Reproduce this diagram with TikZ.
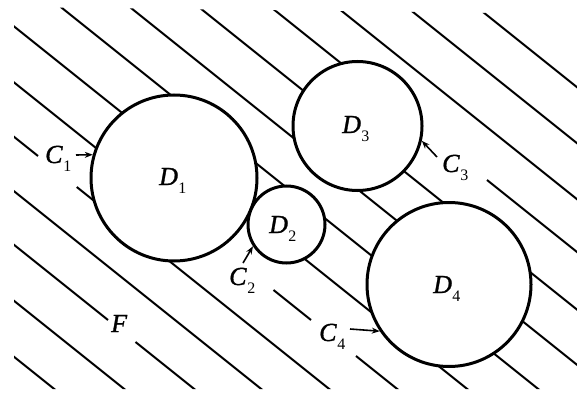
\documentclass[tikz,border=0pt]{standalone}
\usepackage{fontspec}
\setmainfont{Liberation Serif}[ItalicFeatures={FakeBold=1.2}]
\usetikzlibrary{arrows.meta}
\newcommand{\lbl}[2]{\textit{#1}\kern0.5pt\raisebox{-8pt}{\fontsize{16}{16}\selectfont #2}}
\begin{document}
\begin{tikzpicture}[x=1pt,y=-1pt,
  hatch/.style={line width=2pt},
  disk/.style={circle,draw,fill=white,line width=3pt,inner sep=0pt},
  lab/.style={anchor=base west,inner sep=0pt,font=\fontsize{26}{26}\selectfont},
  arr/.style={line width=1.6pt,-{Stealth[length=8pt,width=6pt]}}]
\useasboundingbox (0,0) rectangle (577,393);
\begin{scope}
\clip (14,7) -- (577,14) -- (577,389) -- (14,389) -- cycle;
\foreach \a in {468,398,328,190,121,52,-19,-225,-362,-432}
  \draw[hatch] ({\a-62.5},-50) -- ({\a+625},500);
\foreach \a/\ya/\yb in {262/-50/127, 262/180/500,
                        -89/-50/246, -89/290/320, -89/356/500,
                        -157/-50/156, -157/187/500,
                        -292/-50/320, -292/342/500}
  \draw[hatch] ({\a+1.25*(\ya)},\ya) -- ({\a+1.25*(\yb)},\yb);
\end{scope}
\node[disk,minimum size=166pt] (d1) at (174,178) {};
\node[disk,minimum size=77pt] (d2) at (286.5,224.5) {};
\node[disk,minimum size=129pt] (d3) at (357.5,126) {};
\node[disk,minimum size=164pt] (d4) at (449,284.5) {};
\node[lab] (l1) at (159,185) {\lbl{D}{1}};
\node[lab] (l2) at (269,233) {\lbl{D}{2}};
\node[lab] (l3) at (342,133) {\lbl{D}{3}};
\node[lab] (l4) at (433,293) {\lbl{D}{4}};
\node[lab] (c1) at (45,163) {\lbl{C}{1}};
\node[lab] (c2) at (229,285) {\lbl{C}{2}};
\node[lab] (c3) at (442,172) {\lbl{C}{3}};
\node[lab] (c4) at (319,341) {\lbl{C}{4}};
\node[lab] (f) at (111,332) {\textit{F}};
\coordinate (t1) at (76,155);
\coordinate (t2) at (243,263);
\coordinate (t3) at (437,157);
\coordinate (t4) at (350,329);
\draw[arr] (t1) -- (d1.164);
\draw[arr] (t2) -- (d2.213);
\draw[arr] (t3) -- (d3.347);
\draw[arr] (t4) -- (d4.214);
\end{tikzpicture}
\end{document}
